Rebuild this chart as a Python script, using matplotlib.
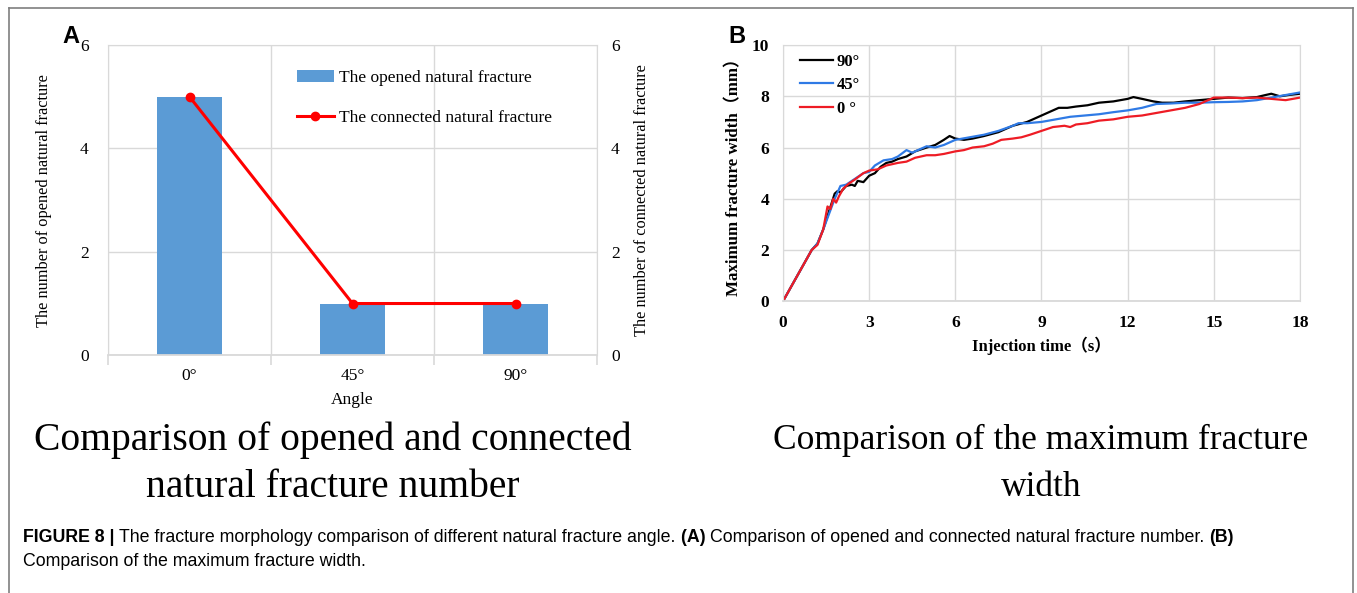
import numpy as np
import matplotlib
matplotlib.use("Agg")
import matplotlib.pyplot as plt
from matplotlib.lines import Line2D

# panel A: fracture counts per natural fracture angle
angles = ["0°", "45°", "90°"]
opened = [5, 1, 1]
connected = [5, 1, 1]

# panel B: maximum fracture width vs injection time
t90 = [0, 0.5, 1.0, 1.2, 1.4, 1.6, 1.8, 1.9, 2.0, 2.2, 2.4, 2.5, 2.6, 2.8, 3.0, 3.2, 3.4,
       3.6, 3.8, 4.0, 4.3, 4.6, 5.0, 5.3, 5.6, 5.8, 6.0, 6.3, 6.6, 7.0, 7.5, 8.0, 8.5,
       9.0, 9.3, 9.6, 9.9, 10.2, 10.6, 11.0, 11.5, 12.0, 12.2, 12.5, 12.9, 13.2, 13.6,
       14.0, 14.5, 15.0, 15.5, 16.0, 16.5, 16.8, 17.0, 17.3, 17.6, 18.0]
w90 = [0, 1.0, 2.0, 2.25, 2.8, 3.5, 4.2, 4.3, 4.25, 4.5, 4.55, 4.5, 4.7, 4.65, 4.9, 5.0, 5.25,
       5.4, 5.45, 5.55, 5.65, 5.85, 6.0, 6.1, 6.3, 6.45, 6.35, 6.3, 6.35, 6.45, 6.6, 6.85, 7.0,
       7.25, 7.4, 7.55, 7.55, 7.6, 7.65, 7.75, 7.8, 7.9, 7.97, 7.9, 7.8, 7.75, 7.75,
       7.8, 7.85, 7.9, 7.95, 7.93, 7.97, 8.05, 8.1, 8.0, 8.05, 8.1]

t45 = [0, 0.5, 1.0, 1.2, 1.4, 1.6, 1.8, 2.0, 2.2, 2.4, 2.6, 2.8, 3.0, 3.2, 3.5, 3.8, 4.0,
       4.3, 4.5, 4.8, 5.0, 5.3, 5.6, 6.0, 6.5, 7.0, 7.5, 8.0, 8.2, 8.5, 9.0, 9.5, 10.0,
       10.5, 11.0, 11.5, 12.0, 12.5, 13.0, 13.5, 14.0, 14.5, 15.0, 15.5, 16.0, 16.5,
       17.0, 17.5, 18.0]
w45 = [0, 1.0, 2.0, 2.25, 2.8, 3.4, 4.0, 4.5, 4.55, 4.7, 4.85, 5.0, 5.05, 5.3, 5.5, 5.55, 5.65,
       5.9, 5.8, 5.95, 6.05, 6.0, 6.1, 6.3, 6.4, 6.5, 6.65, 6.85, 6.95, 6.95, 7.0, 7.1, 7.2,
       7.25, 7.3, 7.38, 7.45, 7.55, 7.7, 7.72, 7.75, 7.75, 7.77, 7.78, 7.8, 7.85,
       7.95, 8.05, 8.15]

t0 = [0, 0.5, 1.0, 1.2, 1.4, 1.55, 1.65, 1.75, 1.85, 1.95, 2.1, 2.3, 2.5, 2.8, 3.0, 3.3,
      3.6, 4.0, 4.3, 4.6, 5.0, 5.3, 5.6, 6.0, 6.3, 6.6, 7.0, 7.3, 7.6, 8.0, 8.3, 8.6,
      9.0, 9.4, 9.8, 10.0, 10.2, 10.6, 11.0, 11.5, 12.0, 12.5, 13.0, 13.5, 14.0, 14.5,
      15.0, 15.5, 16.0, 16.5, 17.0, 17.5, 18.0]
w0 = [0, 1.0, 2.0, 2.2, 2.8, 3.7, 3.6, 4.0, 3.85, 4.1, 4.4, 4.6, 4.75, 5.0, 5.1, 5.15,
      5.3, 5.4, 5.45, 5.6, 5.7, 5.7, 5.75, 5.85, 5.9, 6.0, 6.05, 6.15, 6.3, 6.35, 6.4, 6.5,
      6.65, 6.8, 6.85, 6.8, 6.9, 6.95, 7.05, 7.1, 7.2, 7.25, 7.35, 7.45, 7.55, 7.7,
      7.95, 7.95, 7.93, 7.95, 7.9, 7.85, 7.95]

serif = ["Liberation Serif", "Noto Sans CJK SC"]
grid_c = "#d9d9d9"

fig = plt.figure(figsize=(13.57, 5.93), dpi=100)

# ---- panel A ----
ax = fig.add_axes([0.0796, 0.401, 0.3604, 0.523])
x = np.arange(len(angles))
ax.bar(x, opened, width=0.4, color="#5b9bd5", zorder=2, label="The opened natural fracture")
ax.set_xlim(-0.5, 2.5)
ax.set_ylim(0, 6)
ax.set_yticks([0, 2, 4, 6])
ax.set_xticks(x)
ax.set_xticklabels(angles)
ax.set_xticks([-0.5, 0.5, 1.5, 2.5], minor=True)
ax.tick_params(axis="x", which="major", length=0, pad=9)
ax.tick_params(axis="x", which="minor", length=7, color=grid_c, width=1.2)
ax.tick_params(axis="y", length=0, pad=14)
ax.grid(True, which="minor", axis="x", color=grid_c, lw=1)
ax.grid(True, which="major", axis="y", color=grid_c, lw=1)
ax.set_axisbelow(True)
for s in ax.spines.values():
    s.set_color(grid_c)
ax.spines["bottom"].set_linewidth(1.3)
for lab in ax.get_xticklabels() + ax.get_yticklabels():
    lab.set_fontfamily(serif)
    lab.set_fontsize(12.5)
ax.set_xlabel("Angle", family=serif, fontsize=12.5, labelpad=6)
ax.set_ylabel("The number of opened natural fracture", family=serif, fontsize=11.8, labelpad=20)

ax2 = ax.twinx()
ax2.plot(x, connected, color="#ff0000", lw=2.2, marker="o", ms=6, zorder=3,
         label="The connected natural fracture")
ax2.set_ylim(0, 6)
ax2.set_yticks([0, 2, 4, 6])
ax2.tick_params(axis="y", length=0, pad=10)
for s in ax2.spines.values():
    s.set_visible(False)
for lab in ax2.get_yticklabels():
    lab.set_fontfamily(serif)
    lab.set_fontsize(12.5)
ax2.set_ylabel("The number of connected natural fracture", family=serif, fontsize=11.8, labelpad=10)

h1, l1 = ax.get_legend_handles_labels()
h2, l2 = ax2.get_legend_handles_labels()
ax2.legend(h1 + h2, l1 + l2, loc="upper left", bbox_to_anchor=(0.355, 0.97), frameon=False,
           prop={"family": serif, "size": 12.5}, handlelength=2.1, handletextpad=0.3,
           labelspacing=1.35)

fig.text(0.0457, 0.938, "A", family="Liberation Sans", weight="bold", fontsize=17,
         ha="left", va="center")
fig.text(0.245, 0.2175, "Comparison of opened and connected\nnatural fracture number",
         family=serif, fontsize=28.5, ha="center", va="center", linespacing=1.37)

# ---- panel B ----
bx = fig.add_axes([0.577, 0.492, 0.381, 0.432])
bx.plot(t90, w90, color="black", lw=1.6, label="90°")
bx.plot(t45, w45, color="#2f7ae5", lw=1.6, label="45°")
bx.plot(t0, w0, color="#ee1c25", lw=1.6, label="0 °")
bx.set_xlim(0, 18)
bx.set_ylim(0, 10)
bx.set_xticks(np.arange(0, 19, 3))
bx.set_yticks(np.arange(0, 11, 2))
bx.grid(True, color=grid_c, lw=1)
bx.set_axisbelow(True)
bx.tick_params(axis="x", length=0, pad=10)
bx.tick_params(axis="y", length=0, pad=10)
for s in bx.spines.values():
    s.set_color(grid_c)
bx.spines["bottom"].set_linewidth(1.3)
for lab in bx.get_xticklabels() + bx.get_yticklabels():
    lab.set_fontfamily(serif)
    lab.set_fontsize(12.5)
    lab.set_fontweight("bold")
bx.set_xlabel("Injection time（s）", family=serif, fontsize=12, weight="bold", labelpad=4)
bx.set_ylabel("Maximum fracture width（mm）", family=serif, fontsize=12.2, weight="bold",
              labelpad=7)
bx.legend(loc="upper left", bbox_to_anchor=(0.004, 1.025), frameon=False,
          prop={"family": serif, "size": 12, "weight": "bold"}, handlelength=2.0,
          handletextpad=0.2, labelspacing=0.45)

fig.text(0.5365, 0.938, "B", family="Liberation Sans", weight="bold", fontsize=17,
         ha="left", va="center")
fig.text(0.767, 0.2175, "Comparison of the maximum fracture\nwidth",
         family=serif, fontsize=25.5, ha="center", va="center", linespacing=1.53)

# ---- caption: bold and regular runs placed one after another ----
cap_size = 12.8
renderer = fig.canvas.get_renderer()
runs = [("FIGURE 8 | ", "bold"),
        ("The fracture morphology comparison of different natural fracture angle. ", "normal"),
        ("(A) ", "bold"),
        ("Comparison of opened and connected natural fracture number. ", "normal"),
        ("(B)", "bold")]
cx = 23
cap_y = 1 - 537 / 593
for s, wt in runs:
    txt = fig.text(cx / 1357, cap_y, s, family="Liberation Sans", weight=wt,
                   fontsize=cap_size, va="center")
    cx += txt.get_window_extent(renderer).width
fig.text(23 / 1357, 1 - 562 / 593, "Comparison of the maximum fracture width.",
         family="Liberation Sans", fontsize=cap_size, va="center")

frame_c = "#7f7f7f"
fig.add_artist(Line2D([0.0066, 0.0066], [0, 0.9865], color=frame_c, lw=1.2))
fig.add_artist(Line2D([0.997, 0.997], [0, 0.9865], color=frame_c, lw=1.2))
fig.add_artist(Line2D([0.0066, 0.997], [0.9865, 0.9865], color=frame_c, lw=1.2))

fig.savefig("out.png", dpi=100)
